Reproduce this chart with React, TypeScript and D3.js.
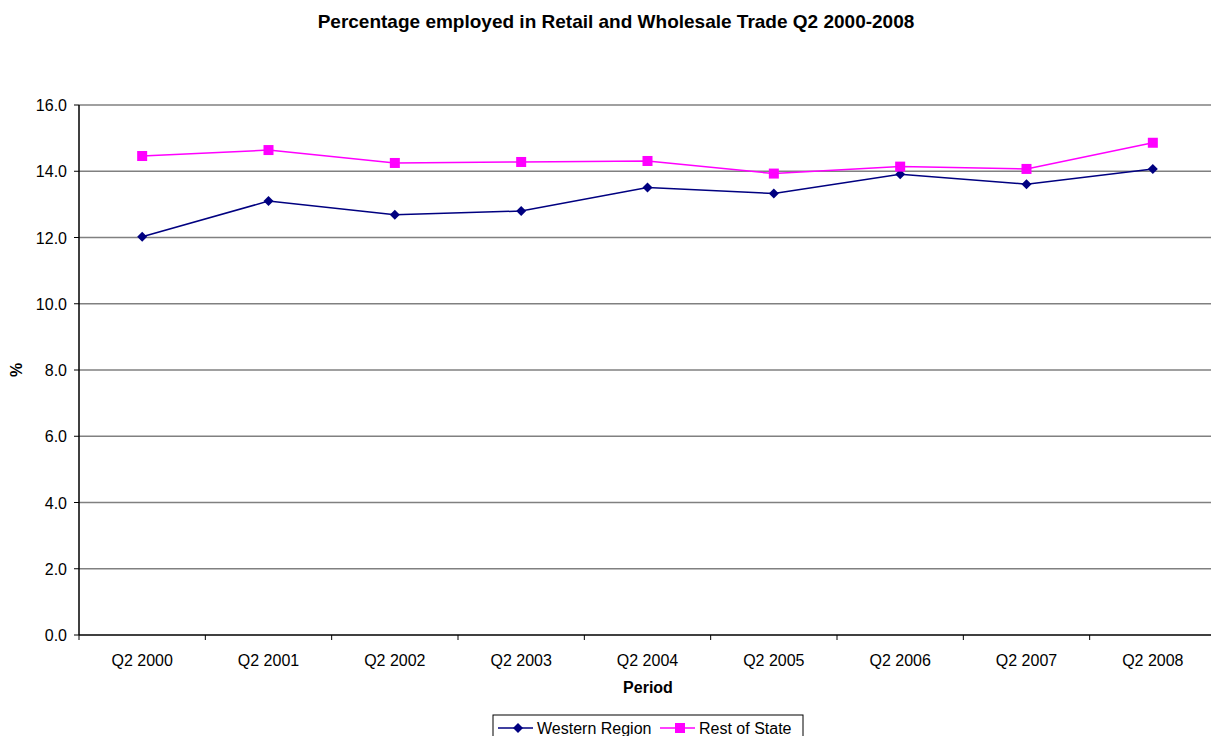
import React from "react";
import * as d3 from "d3";

const periods = ["Q2 2000", "Q2 2001", "Q2 2002", "Q2 2003", "Q2 2004", "Q2 2005", "Q2 2006", "Q2 2007", "Q2 2008"];
const westernRegion = [12.02, 13.1, 12.69, 12.8, 13.51, 13.33, 13.91, 13.61, 14.07];
const restOfState = [14.46, 14.64, 14.25, 14.28, 14.31, 13.93, 14.14, 14.07, 14.86];
const yTicks = [0, 2, 4, 6, 8, 10, 12, 14, 16];

const W = 1211;
const H = 736;
const left = 79;
const right = 1216;
const top = 105;
const bottom = 635;
const font = "'Liberation Sans', Arial, sans-serif";

export default function App() {
  const x = d3.scaleBand<string>().domain(periods).range([left, right]);
  const y = d3.scaleLinear().domain([0, 16]).range([bottom, top]);
  const cx = (p: string) => (x(p) ?? 0) + x.bandwidth() / 2;
  const line = d3
    .line<number>()
    .x((_, i) => cx(periods[i]))
    .y((d) => y(d));

  const series = [
    { name: "Western Region", values: westernRegion, color: "#000080", marker: "diamond" },
    { name: "Rest of State", values: restOfState, color: "#FF00FF", marker: "square" },
  ];

  const marker = (kind: string, px: number, py: number, color: string, key: string | number) =>
    kind === "diamond" ? (
      <path key={key} d={`M${px},${py - 5}L${px + 5},${py}L${px},${py + 5}L${px - 5},${py}Z`} fill={color} />
    ) : (
      <rect key={key} x={px - 5} y={py - 5} width={10} height={10} fill={color} />
    );

  const legendX = 493;
  const legendY = 715;
  const legendOffsets = [5, 167];

  return (
    <svg width={W} height={H} style={{ position: "absolute", left: 0, top: 0, background: "#fff" }} fontFamily={font}>
      <text x={616} y={28} textAnchor="middle" fontSize={19} fontWeight="bold">
        Percentage employed in Retail and Wholesale Trade Q2 2000-2008
      </text>

      {yTicks.map((t) => (
        <g key={t}>
          {t > 0 && <line x1={left} x2={right} y1={y(t)} y2={y(t)} stroke="#808080" strokeWidth={1.5} />}
          <line x1={left - 5} x2={left} y1={y(t)} y2={y(t)} stroke="#000" />
          <text x={left - 12} y={y(t) + 6} textAnchor="end" fontSize={16}>
            {d3.format(".1f")(t)}
          </text>
        </g>
      ))}

      <line x1={left} x2={left} y1={top} y2={bottom} stroke="#000" strokeWidth={1.5} />
      <line x1={left} x2={right} y1={bottom} y2={bottom} stroke="#000" strokeWidth={1.5} />
      {periods.map((p) => (
        <g key={p}>
          <line x1={x(p)} x2={x(p)} y1={bottom} y2={bottom + 5} stroke="#000" />
          <text x={cx(p)} y={bottom + 31} textAnchor="middle" fontSize={16}>
            {p}
          </text>
        </g>
      ))}

      <text x={648} y={693} textAnchor="middle" fontSize={16} fontWeight="bold">
        Period
      </text>
      <text transform={`translate(22,${(top + bottom) / 2}) rotate(-90)`} textAnchor="middle" fontSize={16} fontWeight="bold">
        %
      </text>

      {series.map((s) => (
        <g key={s.name}>
          <path d={line(s.values) ?? ""} fill="none" stroke={s.color} strokeWidth={1.5} />
          {s.values.map((v, i) => marker(s.marker, cx(periods[i]), y(v), s.color, i))}
        </g>
      ))}

      <rect x={legendX} y={legendY} width={310} height={30} fill="#fff" stroke="#000" />
      {series.map((s, i) => {
        const ox = legendX + legendOffsets[i];
        const ly = legendY + 13;
        return (
          <g key={s.name}>
            <line x1={ox} x2={ox + 35} y1={ly} y2={ly} stroke={s.color} strokeWidth={1.5} />
            {marker(s.marker, ox + 20, ly, s.color, "m")}
            <text x={ox + 39} y={ly + 6} fontSize={16}>
              {s.name}
            </text>
          </g>
        );
      })}
    </svg>
  );
}
